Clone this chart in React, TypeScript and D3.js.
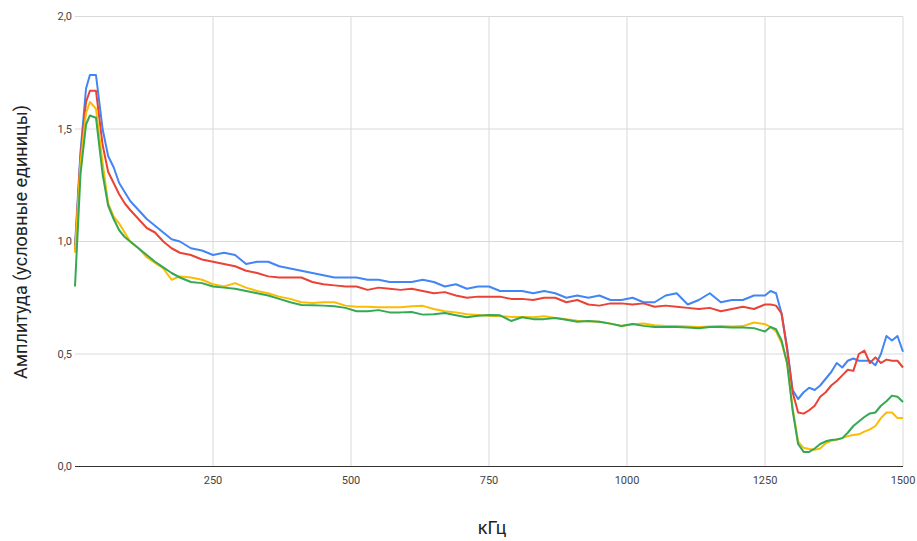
import React, { useEffect, useRef } from 'react';
import * as d3 from 'd3';

// частота, кГц
const freq = [
  0, 10, 20, 27, 38, 50, 60, 70, 80, 90, 100, 115, 130, 145, 160, 175, 190, 210, 230, 250,
  270, 290, 310, 330, 350, 370, 390, 410, 430, 450, 470, 490, 510, 530, 550, 570, 590, 610, 630, 650,
  670, 690, 710, 730, 750, 770, 790, 810, 830, 850, 870, 890, 910, 930, 950, 970, 990, 1010, 1030, 1050,
  1070, 1090, 1110, 1130, 1150, 1170, 1190, 1210, 1230, 1250, 1260, 1270, 1280, 1290, 1300, 1310, 1320, 1330, 1340, 1350,
  1360, 1370, 1380, 1390, 1400, 1410, 1420, 1430, 1440, 1450, 1460, 1470, 1480, 1490, 1500,
];

const blue = [
  0.98, 1.4, 1.68, 1.74, 1.74, 1.5, 1.38, 1.33, 1.26, 1.22, 1.18, 1.14, 1.1, 1.07, 1.04, 1.01, 1.0, 0.97, 0.96, 0.94,
  0.95, 0.94, 0.9, 0.91, 0.91, 0.89, 0.88, 0.87, 0.86, 0.85, 0.84, 0.84, 0.84, 0.83, 0.83, 0.82, 0.82, 0.82, 0.83, 0.82,
  0.8, 0.81, 0.79, 0.8, 0.8, 0.78, 0.78, 0.78, 0.77, 0.78, 0.77, 0.75, 0.76, 0.75, 0.76, 0.74, 0.74, 0.75, 0.73, 0.73,
  0.76, 0.77, 0.72, 0.74, 0.77, 0.73, 0.74, 0.74, 0.76, 0.76, 0.78, 0.77, 0.68, 0.53, 0.34, 0.3, 0.33, 0.35, 0.34, 0.36,
  0.39, 0.42, 0.46, 0.44, 0.47, 0.48, 0.47, 0.47, 0.47, 0.45, 0.5, 0.58, 0.56, 0.58, 0.51,
];

const red = [
  0.96, 1.38, 1.62, 1.67, 1.67, 1.43, 1.31, 1.26, 1.21, 1.17, 1.14, 1.1, 1.06, 1.04, 1.0, 0.97, 0.95, 0.94, 0.92, 0.91,
  0.9, 0.89, 0.87, 0.86, 0.845, 0.84, 0.84, 0.84, 0.82, 0.81, 0.805, 0.8, 0.8, 0.785, 0.795, 0.79, 0.785, 0.79, 0.78, 0.77,
  0.775, 0.76, 0.75, 0.755, 0.755, 0.755, 0.745, 0.745, 0.74, 0.75, 0.75, 0.73, 0.74, 0.72, 0.715, 0.725, 0.725, 0.72, 0.725, 0.71,
  0.715, 0.71, 0.705, 0.7, 0.705, 0.69, 0.7, 0.71, 0.7, 0.72, 0.72, 0.715, 0.68, 0.52, 0.33, 0.24, 0.235, 0.25, 0.27, 0.31,
  0.33, 0.36, 0.38, 0.405, 0.43, 0.425, 0.5, 0.515, 0.46, 0.485, 0.46, 0.475, 0.47, 0.47, 0.44,
];

const yellow = [
  0.95, 1.35, 1.57, 1.62, 1.59, 1.35, 1.17, 1.11, 1.08, 1.04, 1.0, 0.97, 0.93, 0.905, 0.88, 0.83, 0.845, 0.84, 0.83, 0.81,
  0.8, 0.815, 0.795, 0.78, 0.77, 0.755, 0.745, 0.73, 0.727, 0.73, 0.73, 0.715, 0.71, 0.71, 0.708, 0.708, 0.708, 0.712, 0.714, 0.7,
  0.69, 0.685, 0.677, 0.673, 0.67, 0.668, 0.665, 0.665, 0.663, 0.668, 0.66, 0.655, 0.648, 0.645, 0.643, 0.635, 0.624, 0.632, 0.636, 0.628,
  0.624, 0.624, 0.622, 0.62, 0.622, 0.624, 0.622, 0.624, 0.64, 0.633, 0.62, 0.6, 0.55, 0.46, 0.26, 0.11, 0.083, 0.078, 0.074, 0.08,
  0.103, 0.114, 0.12, 0.126, 0.135, 0.14, 0.143, 0.155, 0.165, 0.18, 0.215, 0.24, 0.24, 0.215, 0.216,
];

const green = [
  0.8, 1.3, 1.52, 1.56, 1.55, 1.3, 1.16, 1.1, 1.05, 1.02, 1.0, 0.97, 0.94, 0.91, 0.885, 0.86, 0.84, 0.82, 0.815, 0.8,
  0.795, 0.79, 0.78, 0.77, 0.76, 0.745, 0.73, 0.718, 0.717, 0.715, 0.712, 0.705, 0.69, 0.69, 0.695, 0.685, 0.685, 0.687, 0.675, 0.677,
  0.682, 0.672, 0.663, 0.67, 0.673, 0.672, 0.647, 0.663, 0.655, 0.655, 0.66, 0.652, 0.643, 0.647, 0.643, 0.635, 0.624, 0.633, 0.625, 0.62,
  0.62, 0.62, 0.618, 0.614, 0.62, 0.62, 0.618, 0.618, 0.615, 0.6, 0.62, 0.61, 0.56, 0.46, 0.25, 0.1, 0.065, 0.065, 0.08, 0.1,
  0.112, 0.118, 0.12, 0.126, 0.15, 0.18, 0.2, 0.22, 0.236, 0.24, 0.27, 0.29, 0.315, 0.31, 0.287,
];

const xTicks = [250, 500, 750, 1000, 1250, 1500];
const yTicks = [0, 0.5, 1.0, 1.5, 2.0];

const series = [
  { name: 'blue', values: blue, color: '#4285f4' },
  { name: 'red', values: red, color: '#ea4335' },
  { name: 'yellow', values: yellow, color: '#fbbc04' },
  { name: 'green', values: green, color: '#34a853' },
];

const width = 917;
const height = 541;
const margin = { top: 16.5, right: 14, bottom: 74.5, left: 75 };

const App: React.FC = () => {
  const ref = useRef<SVGSVGElement>(null);

  useEffect(() => {
    const svg = d3.select(ref.current);
    svg.selectAll('*').remove();

    const w = width - margin.left - margin.right;
    const h = height - margin.top - margin.bottom;
    const font = 'Roboto, Arial, sans-serif';

    const x = d3.scaleLinear().domain([0, 1500]).range([0, w]);
    const y = d3.scaleLinear().domain([0, 2]).range([h, 0]);

    svg.append('rect').attr('width', width).attr('height', height).attr('fill', '#fff');

    const g = svg.append('g').attr('transform', `translate(${margin.left},${margin.top})`);

    // сетка
    g.selectAll('.vgrid')
      .data(xTicks)
      .enter()
      .append('line')
      .attr('x1', d => x(d))
      .attr('x2', d => x(d))
      .attr('y1', 0)
      .attr('y2', h)
      .attr('stroke', '#d9d9d9')
      .attr('stroke-width', 1);

    g.selectAll('.hgrid')
      .data(yTicks.filter(d => d > 0))
      .enter()
      .append('line')
      .attr('x1', 0)
      .attr('x2', w)
      .attr('y1', d => y(d))
      .attr('y2', d => y(d))
      .attr('stroke', '#d9d9d9')
      .attr('stroke-width', 1);

    g.append('line')
      .attr('x1', 0)
      .attr('x2', w)
      .attr('y1', y(0))
      .attr('y2', y(0))
      .attr('stroke', '#333')
      .attr('stroke-width', 1);

    const fmt = (v: number) => d3.format('.1f')(v).replace('.', ',');

    g.selectAll('.ylab')
      .data(yTicks)
      .enter()
      .append('text')
      .attr('x', -3)
      .attr('y', d => y(d))
      .attr('dy', '0.35em')
      .attr('text-anchor', 'end')
      .attr('font-family', font)
      .attr('font-size', 11)
      .attr('fill', '#444')
      .text(d => fmt(d));

    g.selectAll('.xlab')
      .data(xTicks)
      .enter()
      .append('text')
      .attr('x', d => x(d))
      .attr('y', h + 17)
      .attr('text-anchor', 'middle')
      .attr('font-family', font)
      .attr('font-size', 11)
      .attr('fill', '#444')
      .text(d => d);

    const line = d3
      .line<number>()
      .x((_, i) => x(freq[i]))
      .y(d => y(d));

    series.forEach(s => {
      g.append('path')
        .datum(s.values)
        .attr('fill', 'none')
        .attr('stroke', s.color)
        .attr('stroke-width', 2)
        .attr('stroke-linejoin', 'round')
        .attr('d', line);
    });

    svg.append('text')
      .attr('transform', `translate(27,242) rotate(-90)`)
      .attr('text-anchor', 'middle')
      .attr('font-family', font)
      .attr('font-size', 18)
      .attr('fill', '#222')
      .text('Амплитуда (условные единицы)');

    svg.append('text')
      .attr('x', 492)
      .attr('y', 534)
      .attr('text-anchor', 'middle')
      .attr('font-family', font)
      .attr('font-size', 18)
      .attr('fill', '#222')
      .text('кГц');
  }, []);

  return (
    <svg
      ref={ref}
      width={width}
      height={height}
      style={{ position: 'absolute', left: 0, top: 0, display: 'block' }}
    ></svg>
  );
};

export default App;
